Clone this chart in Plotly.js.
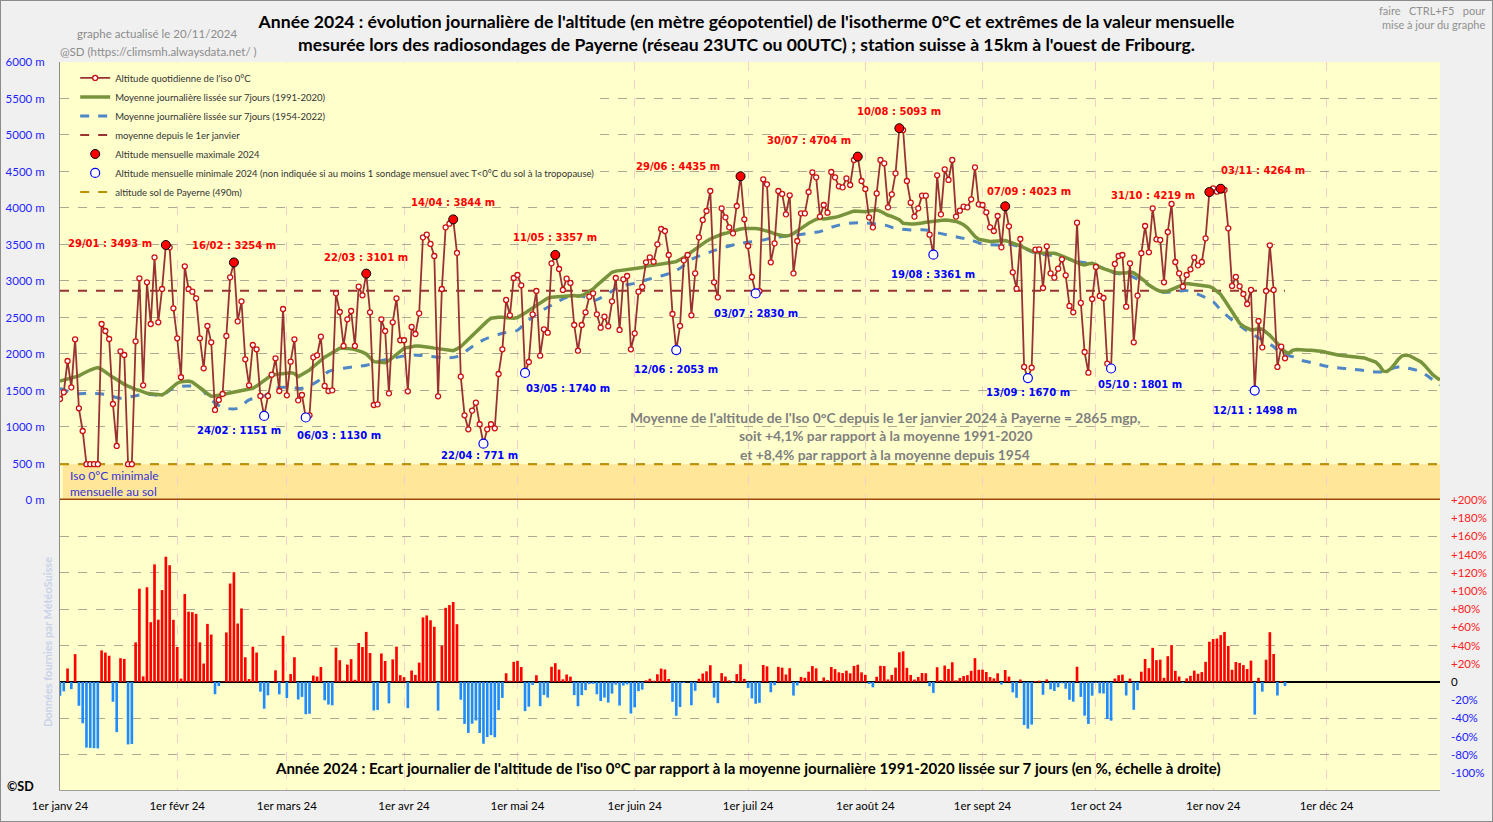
<!DOCTYPE html>
<html><head><meta charset="utf-8">
<script src="https://cdn.plot.ly/plotly-3.0.1.min.js"></script>
<style>
body{margin:0;background:#F0F0F0;}
#chart{width:1493px;height:822px;}
#frame{position:absolute;left:0;top:0;width:1493px;height:822px;box-sizing:border-box;border:1px solid #8c8c8c;pointer-events:none;}
</style>
</head><body><div id="chart"></div><div id="frame"></div>
<script>
// ---------------- DATA ----------------
const year = 2024;
// daily altitude of the 0°C isotherm (m), 1 Jan .. 20 Nov 2024
const dailyAlt = [
1383,1475,1904,1543,2201,1256,945,490,490,490,
490,2411,2315,2205,1315,740,2037,1986,490,490,
2174,3037,1571,2982,2411,3324,2434,2890,3493,3461,
2626,2215,1681,3201,2890,2854,2763,2215,1804,2384,
2160,1233,1370,1452,2247,3050,3254,2447,2721,1927,
1571,2123,2064,1425,1151,1425,1717,1941,1493,2616,
1434,1895,2201,1365,1438,1130,1160,1954,1982,2237,
1562,1493,1502,2831,2575,2110,2475,2589,2110,2922,
2804,3101,2571,1301,1310,2475,2315,1461,2434,2763,
2188,2188,1489,2370,2274,2557,3598,3635,3507,3342,
1420,2890,3735,3785,3844,3384,1690,1160,968,1224,
1333,1037,771,968,1037,982,1726,2064,2740,2530,
3041,3082,2941,1740,1890,2543,2863,1977,2338,2292,
3242,3357,3164,2877,3032,2973,2397,2045,2397,2571,
2785,2831,2543,2361,2511,2379,2721,3041,2329,3023,
3068,2064,2283,2854,2918,3256,3324,3265,3502,3712,
3685,3356,2548,2053,2384,3283,3356,2530,3105,3598,
3836,3959,4233,2982,2776,3995,3872,3735,3653,4027,
4435,3845,3479,3055,2830,2860,4393,4324,3256,3516,
4233,4192,3913,4174,3105,3548,3927,3927,4219,4489,
4420,3882,4041,3936,4493,4420,4297,4283,4406,4315,
4658,4704,4370,4260,3872,3735,4200,4658,4612,4009,
4187,4475,5093,5068,4370,4073,3882,3995,4169,4169,
3635,3361,4448,3913,4530,4384,4658,3882,3963,4018,
4009,4119,4557,4050,4041,3941,3735,3685,3890,3461,
4023,3749,3119,2895,3575,1822,1670,1812,3429,3434,
2904,3475,3105,3046,3169,3297,3078,2658,2571,3799,
2700,2027,1744,2753,3192,2795,2767,1868,1801,3233,
3342,3356,2648,3242,2160,2800,3380,3753,3393,3995,
3571,3562,2982,3671,4055,3260,3105,2922,3082,3160,
3324,3214,3260,3584,4219,4269,4224,4264,4247,3721,
2932,3055,2927,2822,2685,2877,1498,2452,2091,2863,
3489,2877,1822,2100,1941
];
// 7-day smoothed daily mean 1991-2020 (m), 1 Jan .. 31 Dec
const mean1991 = [
1630,1645,1658,1675,1685,1700,1730,1758,1780,1800,
1813,1790,1750,1712,1680,1650,1615,1584,1560,1535,
1515,1500,1480,1461,1455,1450,1445,1438,1470,1516,
1560,1600,1621,1628,1630,1615,1580,1543,1500,1455,
1420,1425,1435,1445,1455,1465,1475,1490,1505,1515,
1522,1530,1560,1595,1630,1670,1712,1720,1728,1735,
1740,1744,1730,1690,1720,1750,1781,1825,1870,1920,
1955,1986,2020,2055,2078,2078,2078,2070,2060,2046,
2025,2000,1950,1895,1890,1885,1881,1910,1950,1990,
2035,2078,2090,2105,2110,2108,2105,2100,2090,2080,
2072,2065,2058,2052,2046,2070,2100,2150,2200,2260,
2310,2360,2400,2450,2490,2502,2502,2502,2500,2495,
2490,2500,2525,2560,2595,2630,2665,2694,2730,2765,
2778,2782,2785,2795,2803,2808,2800,2790,2800,2825,
2854,2890,2940,2985,3030,3075,3120,3135,3142,3148,
3152,3160,3167,3174,3185,3200,3210,3219,3228,3235,
3240,3250,3258,3265,3290,3320,3360,3400,3440,3475,
3510,3545,3575,3600,3620,3640,3653,3670,3690,3705,
3712,3718,3722,3726,3720,3712,3702,3690,3670,3645,
3630,3622,3616,3625,3650,3690,3720,3755,3790,3820,
3845,3860,3850,3855,3860,3872,3885,3900,3920,3940,
3959,3955,3952,3950,3960,3970,3973,3955,3925,3900,
3885,3865,3840,3790,3781,3781,3781,3785,3795,3805,
3813,3820,3828,3834,3836,3833,3828,3815,3795,3770,
3730,3670,3610,3571,3560,3550,3542,3545,3552,3560,
3555,3540,3522,3505,3480,3455,3428,3410,3395,3385,
3379,3379,3379,3379,3365,3345,3325,3305,3280,3255,
3228,3220,3235,3242,3225,3190,3170,3150,3133,3116,
3110,3106,3110,3125,3110,3075,3037,2995,2945,2905,
2880,2860,2852,2860,2885,2905,2930,2950,2965,2960,
2955,2948,2940,2935,2925,2900,2860,2815,2740,2665,
2585,2505,2420,2380,2350,2330,2335,2345,2340,2300,
2255,2200,2140,2080,2030,2010,2050,2062,2055,2050,
2050,2050,2048,2045,2035,2020,2005,1995,1986,1980,
1975,1970,1966,1962,1960,1945,1925,1905,1890,1840,
1765,1760,1800,1860,1930,1975,1986,1975,1950,1920,
1890,1840,1780,1720,1680,1644
];
// 7-day smoothed daily mean 1954-2022 (m), read at these days of year
const blueDays = [1,5,9,13,17,21,24,28,31,35,38,41,44,48,51,55,58,62,65,69,72,76,79,82,85,89,94,98,103,106,
110,113,118,122,124,128,132,135,139,142,146,149,153,156,160,162,165,168,172,175,179,182,186,189,193,196,200,202,205,208,
212,215,219,222,226,230,233,237,240,242,245,249,252,256,259,263,266,270,273,277,280,283,285,289,292,296,299,303,306,308,
311,314,316,319,322,324,327,329,333,337,341,345,350,355,358,361,364,366];
const blueVals = [1530,1461,1461,1447,1393,1429,1447,1438,1530,1562,1530,1370,1270,1256,1370,1425,1530,1543,1530,1621,1758,1804,1826,1845,1895,1941,1986,1973,1950,1963,
2100,2192,2283,2325,2420,2580,2694,2776,2795,2731,2831,2922,2968,3014,3068,3100,3174,3297,3379,3434,3493,3525,3552,3584,3616,3630,3662,3676,3735,3776,
3799,3790,3767,3721,3699,3699,3662,3616,3584,3560,3507,3493,3502,3447,3379,3352,3333,3265,3242,3174,3105,3096,3050,2945,2854,2854,2868,2795,2717,2603,
2466,2352,2283,2192,2100,2009,1963,1918,1870,1822,1800,1781,1753,1822,1800,1753,1650,1575];
const meanSinceJan = 2865;
const groundAlt = 490;
const maxDays = [29,47,82,105,132,181,212,223,251,305,308];
const maxVals = [3493,3254,3101,3844,3357,4435,4704,5093,4023,4219,4264];
const minDays = [55,66,113,124,164,185,232,257,279,317];
const minVals = [1151,1130,771,1740,2053,2830,3361,1670,1801,1498];
const monthTickLabels = ['1er janv 24','1er févr 24','1er mars 24','1er avr 24','1er mai 24','1er juin 24',
  '1er juil 24','1er août 24','1er sept 24','1er oct 24','1er nov 24','1er déc 24'];
const altTickVals = [0,500,1000,1500,2000,2500,3000,3500,4000,4500,5000,5500,6000];
const pctTickVals = [200,180,160,140,120,100,80,60,40,20,0,-20,-40,-60,-80,-100];

// ---------------- LABEL PLACEMENT (style) ----------------
const maxLabelPos = [['right',-12,2],['center',0,17],['center',0,16],['center',0,17],['center',0,17],
  ['right',-19,10],['right',-5,16],['center',0,17],['left',-20,15],['right',-12,-3],['left',-2,18]];
const minLabelPos = [[-25,-15],[33,-18],[-4,-12],[43,-16],[0,-19],[0,-20],[0,-20],[0,-14],[29,-16],[0,-20]];

// ---------------- HELPERS ----------------
function dayToISO(d){ return new Date(Date.UTC(year,0,d)).toISOString().slice(0,10); }
function ddmm(d){ const s = dayToISO(d); return s.slice(8,10)+'/'+s.slice(5,7); }
const dates = dailyAlt.map((v,i)=>dayToISO(i+1));
const allDates = mean1991.map((v,i)=>dayToISO(i+1));
const monthStarts = monthTickLabels.map((t,m)=>new Date(Date.UTC(year,m,1)).toISOString().slice(0,10));
const pct = dailyAlt.map((v,i)=>(v/mean1991[i]-1)*100);

const F = 'Lato, "Open Sans", sans-serif';
const LBL = '"DejaVu Sans", Verdana, sans-serif';
const yDomTop = [0.3984, 1];
const yDomBot = [0, 0.3984];

// ---------------- TRACES ----------------
const traces = [
  {type:'bar', x:dates, y:pct, xaxis:'x', yaxis:'y2', showlegend:false, hoverinfo:'skip',
   width:0.7*86400000,
   marker:{color:pct.map(p=>p>=0?'#FF0000':'#1F8BFF'), line:{width:0}}},
  {type:'scatter', x:[], y:[], xaxis:'x', yaxis:'y3', showlegend:false},
  {type:'scatter', mode:'lines', name:'altitude sol de Payerne (490m)', legendrank:7,
   x:[allDates[0], allDates[allDates.length-1]], y:[groundAlt, groundAlt],
   line:{color:'#BF9000', width:2, dash:'dash'}},
  {type:'scatter', mode:'lines', name:'moyenne depuis le 1er janvier', legendrank:4,
   x:[dates[0], dates[dates.length-1]], y:[meanSinceJan, meanSinceJan],
   line:{color:'#993333', width:2, dash:'dash'}},
  {type:'scatter', mode:'lines', name:'Moyenne journalière lissée sur 7jours (1954-2022)', legendrank:3,
   x:blueDays.map(dayToISO), y:blueVals,
   line:{color:'#4F86C6', width:3, dash:'dash', shape:'spline'}},
  {type:'scatter', mode:'lines', name:'Moyenne journalière lissée sur 7jours (1991-2020)', legendrank:2,
   x:allDates, y:mean1991, line:{color:'#77933C', width:3.5}},
  {type:'scatter', mode:'lines+markers', name:"Altitude quotidienne de l'iso 0°C", legendrank:1,
   x:dates, y:dailyAlt, line:{color:'#993333', width:1.8},
   marker:{symbol:'circle', size:5, color:'#FFFFFF', line:{color:'#CC1010', width:1.3}}},
  {type:'scatter', mode:'markers', name:'Altitude mensuelle maximale 2024', legendrank:5,
   x:maxDays.map(dayToISO), y:maxVals,
   marker:{symbol:'circle', size:9, color:'#FF0000', line:{color:'#000000', width:1}}},
  {type:'scatter', mode:'markers', name:'Altitude mensuelle minimale 2024 (non indiquée si au moins 1 sondage mensuel avec T<0°C du sol à la tropopause)', legendrank:6,
   x:minDays.map(dayToISO), y:minVals,
   marker:{symbol:'circle', size:9, color:'#FFFFFF', line:{color:'#0000FF', width:1.2}}}
];

// ---------------- ANNOTATIONS ----------------
const ann = [];
maxDays.forEach((d,i)=>{
  const p = maxLabelPos[i];
  ann.push({x:dayToISO(d), y:maxVals[i], xref:'x', yref:'y', showarrow:false,
    text:ddmm(d)+' : '+maxVals[i]+' m', xanchor:p[0], yanchor:'middle', xshift:p[1], yshift:p[2],
    font:{family:LBL, size:10, color:'#FF0000', weight:'bold'}});
});
minDays.forEach((d,i)=>{
  const p = minLabelPos[i];
  ann.push({x:dayToISO(d), y:minVals[i], xref:'x', yref:'y', showarrow:false,
    text:ddmm(d)+' : '+minVals[i]+' m', xanchor:'center', yanchor:'middle', xshift:p[0], yshift:p[1],
    font:{family:LBL, size:10, color:'#0000FF', weight:'bold'}});
});
const W = 1380, H = 728, L = 60, B = 790;
const px = x => (x-L)/W, py = y => (B-y)/H;
function txt(t, x, y, font, extra){ ann.push(Object.assign({text:t, x:px(x), y:py(y), xref:'paper', yref:'paper', showarrow:false, xanchor:'center', yanchor:'middle', font:font}, extra||{})); }
const gray = {family:F, size:11.5, color:'#8C8C8C'};
txt('graphe actualisé le 20/11/2024', 157, 34, gray);
txt('@SD (https://climsmh.alwaysdata.net/ )', 158, 51, gray);
txt('faire   CTRL+F5   pour', 1487, 10, {family:F, size:11, color:'#909090'}, {xanchor:'right'});
txt('mise à jour du graphe', 1487, 25, {family:F, size:11, color:'#909090'}, {xanchor:'right'});
const cgray = {family:F, size:13.8, color:'#7F7F7F', weight:'bold'};
txt("Moyenne de l'altitude de l'Iso 0°C depuis le 1er janvier 2024 à Payerne = 2865 mgp,", 885, 417, cgray);
txt('soit +4,1% par rapport à la moyenne 1991-2020', 885, 436, cgray);
txt('et +8,4% par rapport à la moyenne depuis 1954', 885, 454, cgray);
txt("Année 2024 : Ecart journalier de l'altitude de l'iso 0°C par rapport à la moyenne journalière 1991-2020 lissée sur 7 jours (en %, échelle à droite)", 748, 768, {family:F, size:15, color:'#000000', weight:'bold'});
txt('Iso 0°C minimale', 68, 475, {family:F, size:12, color:'#3434D8'}, {xanchor:'left'});
txt('mensuelle au sol', 68, 491, {family:F, size:12, color:'#3434D8'}, {xanchor:'left'});
txt('©SD', 20, 786, {family:F, size:12.5, color:'#000000', weight:'bold'});
txt('Données fournies par MétéoSuisse', 47, 642, {family:F, size:11, color:'#C9D3E8', weight:'bold'}, {textangle:-90});

// ---------------- LAYOUT ----------------
const layout = {
  width:1493, height:822,
  margin:{l:L, r:53, t:62, b:32},
  paper_bgcolor:'#F0F0F0', plot_bgcolor:'#FFFFCC',
  font:{family:F, size:11, color:'#000'},
  title:{text:"Année 2024 : évolution journalière de l'altitude (en mètre géopotentiel) de l'isotherme 0°C et extrêmes de la valeur mensuelle<br>mesurée lors des radiosondages de Payerne (réseau 23UTC ou 00UTC) ; station suisse à 15km à l'ouest de Fribourg.",
    x:0.5, xref:'container', xanchor:'center', y:0.9655, yref:'container', yanchor:'middle',
    font:{family:F, size:17.6, color:'#000', weight:'bold'}},
  showlegend:true,
  legend:{x:0.011, y:0.998, xanchor:'left', yanchor:'top', bgcolor:'#FFFFCC',
    font:{family:F, size:9.5, color:'#333333'}, tracegroupgap:0, itemwidth:30},
  bargap:0.3,
  xaxis:{type:'date', range:[allDates[0], allDates[allDates.length-1]], anchor:'y2',
    tickvals:monthStarts, ticktext:monthTickLabels, ticks:'', ticklabelstandoff:5,
    showgrid:true, gridcolor:'#F6CCCC', griddash:'dash', gridwidth:1,
    showline:true, linecolor:'#A0A0A0', linewidth:1, zeroline:false,
    tickfont:{family:F, size:11.5, color:'#000'}},
  yaxis:{domain:yDomTop, range:[0,6000], anchor:'x',
    tickvals:altTickVals, ticktext:altTickVals.map(v=>v+' m'), ticks:'', ticklabelstandoff:12,
    showgrid:true, gridcolor:'#ABA894', griddash:'dash', gridwidth:1, zeroline:false,
    showline:true, linecolor:'#8C8C8C', linewidth:1,
    tickfont:{family:F, size:11.5, color:'#1F1FFF'}},
  yaxis2:{domain:yDomBot, range:[-118.7,200], anchor:'x', side:'right',
    tickvals:pctTickVals,
    ticktext:pctTickVals.map(v=> v>0 ? '<span style="color:#FF2020">+'+v+'%</span>' : (v<0 ? '<span style="color:#2020FF">'+v+'%</span>' : '0')),
    ticks:'', ticklabelstandoff:10, showgrid:false,
    zeroline:true, zerolinecolor:'#000000', zerolinewidth:1.5, showline:false,
    tickfont:{family:F, size:11.5, color:'#000'}},
  yaxis3:{overlaying:'y2', range:[-118.7,200], anchor:'x', side:'left',
    tick0:0, dtick:40, showticklabels:false, ticks:'',
    showgrid:true, gridcolor:'#ABA894', griddash:'dash', gridwidth:1, zeroline:false,
    showline:true, linecolor:'#8C8C8C', linewidth:1},
  shapes:[
    {type:'rect', xref:'paper', yref:'y', x0:0.002, x1:1, y0:0, y1:groundAlt, fillcolor:'#FFE699', line:{width:0}, layer:'below'},
    {type:'line', xref:'paper', yref:'y', x0:0, x1:1, y0:0, y1:0, line:{color:'#9C4A06', width:3}, layer:'above'}
  ],
  annotations:ann
};

Plotly.newPlot('chart', traces, layout, {displayModeBar:false, staticPlot:true});
</script>
</body></html>
